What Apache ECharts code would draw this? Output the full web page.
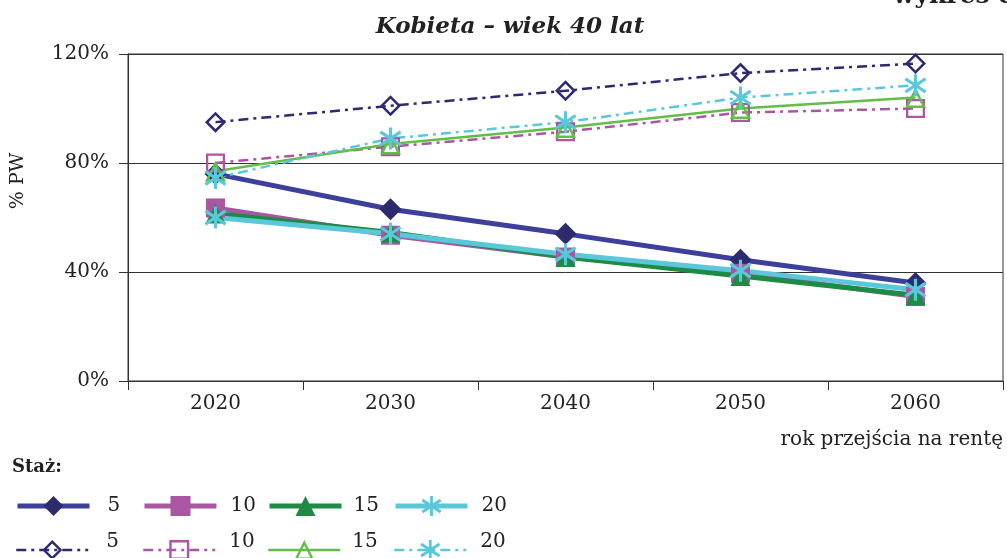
<!DOCTYPE html>
<html>
<head>
<meta charset="utf-8">
<script src="https://cdn.jsdelivr.net/npm/echarts@6/dist/echarts.min.js"></script>
<style>
  html, body { margin: 0; padding: 0; background: #fff; }
  #chart { width: 1007px; height: 558px; }
</style>
</head>
<body>
<div id="chart"></div>
<script>
// Rok przejścia na rentę
const years = ['2020', '2030', '2040', '2050', '2060'];
const yTicks = { min: 0, max: 120, step: 40 };

// Staż 5/10/15/20 lat – pierwszy wariant (grube linie, pełne znaczniki)
const staz5a  = [76, 63, 54, 44.5, 36];
const staz10a = [63.5, 53.5, 45.5, 39.5, 31];
const staz15a = [61.5, 54.5, 45.5, 38.5, 31.5];
const staz20a = [60, 54, 46.5, 40.5, 33.5];

// Staż 5/10/15/20 lat – drugi wariant (cienkie linie, puste znaczniki)
const staz5b  = [95, 101, 106.5, 113, 116.5];
const staz10b = [80, 86, 91.5, 98.5, 100];
const staz15b = [77, 87, 93, 100, 104];
const staz20b = [74.5, 89, 95, 104, 108.5];

const FONT = 'DejaVu Serif';

// Symbol shapes (20x20 design box)
const ASTERISK = 'path://M8.6 0L11.4 0L11.4 20L8.6 20Z' +
  'M1.777 2.835L19.777 14.835L18.223 17.165L0.223 5.165Z' +
  'M19.777 5.165L1.777 17.165L0.223 14.835L18.223 2.835Z';
const OPEN_DIAMOND = 'path://M10 0L20 10L10 20L0 10Z M10 3.4L3.4 10L10 16.6L16.6 10Z';
const OPEN_SQUARE = 'path://M0 0L20 0L20 20L0 20Z M2.4 2.4L2.4 17.6L17.6 17.6L17.6 2.4Z';
const OPEN_TRIANGLE = 'path://M10 0L20 20L0 20Z M10 5.36L3.88 17.6L16.12 17.6Z';
const dashDot = [10, 5, 3, 5];

function lineSeries(name, data, color, markColor, symbol, size, width, dash) {
  return {
    name, type: 'line', data,
    symbol, symbolSize: size,
    lineStyle: { color, width, type: dash || 'solid' },
    itemStyle: { color: markColor },
    emphasis: { disabled: true },
    animation: false
  };
}

const series = [
  lineSeries('5', staz5a, '#3E3F9B', '#2E2A6E', 'diamond', 22, 5),
  lineSeries('10', staz10a, '#A957A3', '#A957A3', 'rect', 19, 5),
  lineSeries('15', staz15a, '#1E8B45', '#1E8B45', 'triangle', 20, 5),
  lineSeries('20', staz20a, '#5AC8DA', '#5AC8DA', ASTERISK, 22, 5),
  lineSeries('5 ', staz5b, '#2E2A72', '#2E2A72', OPEN_DIAMOND, 21, 2.5, dashDot),
  lineSeries('10 ', staz10b, '#A957A3', '#A957A3', OPEN_SQUARE, 19, 2.5, dashDot),
  lineSeries('15 ', staz15b, '#62BE48', '#62BE48', OPEN_TRIANGLE, 21, 2.5),
  lineSeries('20 ', staz20b, '#5AC8DA', '#5AC8DA', ASTERISK, 22, 2.5, dashDot)
];

// One legend entry per component so each column sits at a fixed place
function legendItem(name, left, top, lineWidth, textPad, raised) {
  return {
    orient: 'horizontal',
    left, top,
    padding: 0,
    itemWidth: 72,
    itemHeight: 25,
    selectedMode: false,
    data: [name],
    lineStyle: { width: lineWidth },
    formatter: n => raised ? n.trim() + '\n' : n.trim(),
    textStyle: { fontFamily: FONT, fontSize: 20, lineHeight: 16, color: '#222', padding: [0, 0, 0, textPad] }
  };
}
const cols = [15, 142, 267, 393];
const pads = [13, 9, 7, 9];
const legends = [];
['5', '10', '15', '20'].forEach((n, i) => legends.push(legendItem(n, cols[i], 496, 5, pads[i], false)));
['5 ', '10 ', '15 ', '20 '].forEach((n, i) => legends.push(legendItem(n, cols[i], 532, 2.5, pads[i], true)));

const chart = echarts.init(document.getElementById('chart'), null, { renderer: 'canvas' });
chart.setOption({
  backgroundColor: '#fff',
  animation: false,
  grid: {
    left: 128, right: 4, top: 54, bottom: 177,
    show: true, borderColor: '#333', borderWidth: 1, backgroundColor: 'transparent'
  },
  legend: legends,
  xAxis: {
    type: 'category',
    data: years,
    boundaryGap: true,
    axisLine: { lineStyle: { color: '#333', width: 1 } },
    axisTick: { show: true, length: 9, interval: 0, lineStyle: { color: '#333' } },
    axisLabel: { fontFamily: FONT, fontSize: 20, color: '#222', margin: 13 },
    splitLine: { show: false }
  },
  yAxis: {
    type: 'value',
    min: yTicks.min, max: yTicks.max, interval: yTicks.step,
    axisLine: { show: true, lineStyle: { color: '#333', width: 1 } },
    axisTick: { show: true, length: 9, lineStyle: { color: '#333' } },
    axisLabel: { fontFamily: FONT, fontSize: 20, color: '#222', margin: 19, formatter: '{value}%' },
    splitLine: { show: true, lineStyle: { color: '#333', width: 1 } }
  },
  graphic: [
    {
      type: 'text', x: 510, y: 27,
      style: { text: 'Kobieta – wiek 40 lat', fontFamily: FONT, fontSize: 23, fontWeight: 'bold', fontStyle: 'italic',
               fill: '#222', align: 'center', verticalAlign: 'middle' }
    },
    {
      type: 'text', x: 893, y: 9,
      style: { text: 'wykres 8', fontFamily: FONT, fontSize: 25, fontWeight: 'bold', fill: '#222',
               align: 'left', verticalAlign: 'bottom' }
    },
    {
      type: 'text', x: 18, y: 181, rotation: Math.PI / 2,
      style: { text: '% PW', fontFamily: FONT, fontSize: 19, fill: '#222', align: 'center', verticalAlign: 'middle' }
    },
    {
      type: 'text', x: 1003, y: 440,
      style: { text: 'rok przejścia na rentę', fontFamily: FONT, fontSize: 20, fill: '#222', align: 'right', verticalAlign: 'middle' }
    },
    {
      type: 'text', x: 12, y: 467,
      style: { text: 'Staż:', fontFamily: FONT, fontSize: 18, fontWeight: 'bold', fill: '#222', align: 'left', verticalAlign: 'middle' }
    }
  ],
  series
});
</script>
</body>
</html>
